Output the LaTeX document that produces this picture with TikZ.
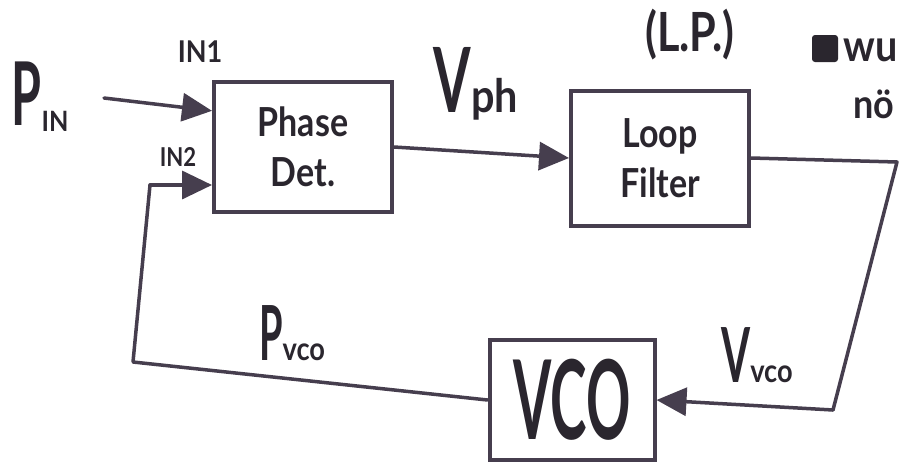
\documentclass[tikz,border=0pt]{standalone}
\usepackage{fontspec}
\setmainfont{Lato}
\usetikzlibrary{arrows.meta,calc}
\definecolor{ink}{RGB}{70,62,78}
\definecolor{txt}{RGB}{42,38,46}
\newcommand\hw[3]{\scalebox{#1}[1]{\fontsize{#2}{#2}\selectfont #3}}
\newcommand\sx[1]{\scalebox{0.85}[1]{#1}}
\begin{document}
\begin{tikzpicture}[x=1pt,y=-1pt,
  blk/.style={draw=ink,line width=4pt,inner sep=0pt,text=txt,align=center,
    font=\bfseries\fontsize{40}{50}\selectfont},
  wire/.style={draw=ink,line width=3.5pt,line cap=round,line join=round},
  arr/.style={wire,-{Triangle[length=30pt,width=28pt]}},
  lbl/.style={text=txt,inner sep=0pt,font=\bfseries}]
\useasboundingbox (0,0) rectangle (906,472);
\fill[white] (0,0) rectangle (906,472);

% blocks
\node[blk,minimum width=178pt,minimum height=130pt] (pd) at (303,147)
  {\sx{Phase}\\\sx{Det.}};
\node[blk,minimum width=178pt,minimum height=135pt] (lf) at (660,158)
  {\sx{Loop}\\\sx{Filter}};
\node[blk,minimum width=165pt,minimum height=120pt] (vco) at (572,400)
  {\hw{0.5}{110}{VCO}};

% connector points
\coordinate (pinS) at (104,98);
\coordinate (fbTop) at (150,185);
\coordinate (fbBot) at (133,362);
\coordinate (rTop) at (897,162);
\coordinate (rBot) at (833,410);

% connectors
\draw[arr] (pinS) -- ($(pd.north west)!0.23!(pd.south west)$);
\draw[arr] (fbTop) -- (pd.west |- fbTop);
\draw[wire] (vco.west) -- (fbBot) -- (fbTop);
\draw[arr] (pd.east) -- (lf.west);
\draw[wire] (lf.east) -- (rTop) -- (rBot);
\draw[arr] (rBot) -- (vco.east);

% labels
\node[lbl] (pin) at (40,97) {\hw{0.55}{88}{P}\raisebox{-6pt}{\hw{0.9}{28}{IN}}};
\node[lbl] (in1) at (200,52) {\hw{0.9}{30}{IN1}};
\node[lbl] (in2) at (178,157) {\hw{0.85}{26}{IN2}};
\node[lbl] (vph) at (476,84) {\hw{0.6}{90}{V}\hw{0.9}{46}{ph}};
\node[lbl] (lp) at (690,35) {\hw{0.8}{54}{(L.P.)}};
\node[lbl] (pvco) at (292,333) {\hw{0.5}{76}{P}\hw{0.85}{32}{vco}};
\node[lbl] (vvco) at (757,355) {\hw{0.55}{76}{V}\hw{0.85}{32}{vco}};

% cut-off note at top right
\fill[txt,rounded corners=3pt] (812,35) rectangle (838,62);
\node[lbl,anchor=west] (wu) at (843,50) {\hw{0.9}{44}{wu}};
\node[lbl,anchor=west] (no) at (853,104) {\hw{0.9}{40}{nö}};
\end{tikzpicture}
\end{document}
